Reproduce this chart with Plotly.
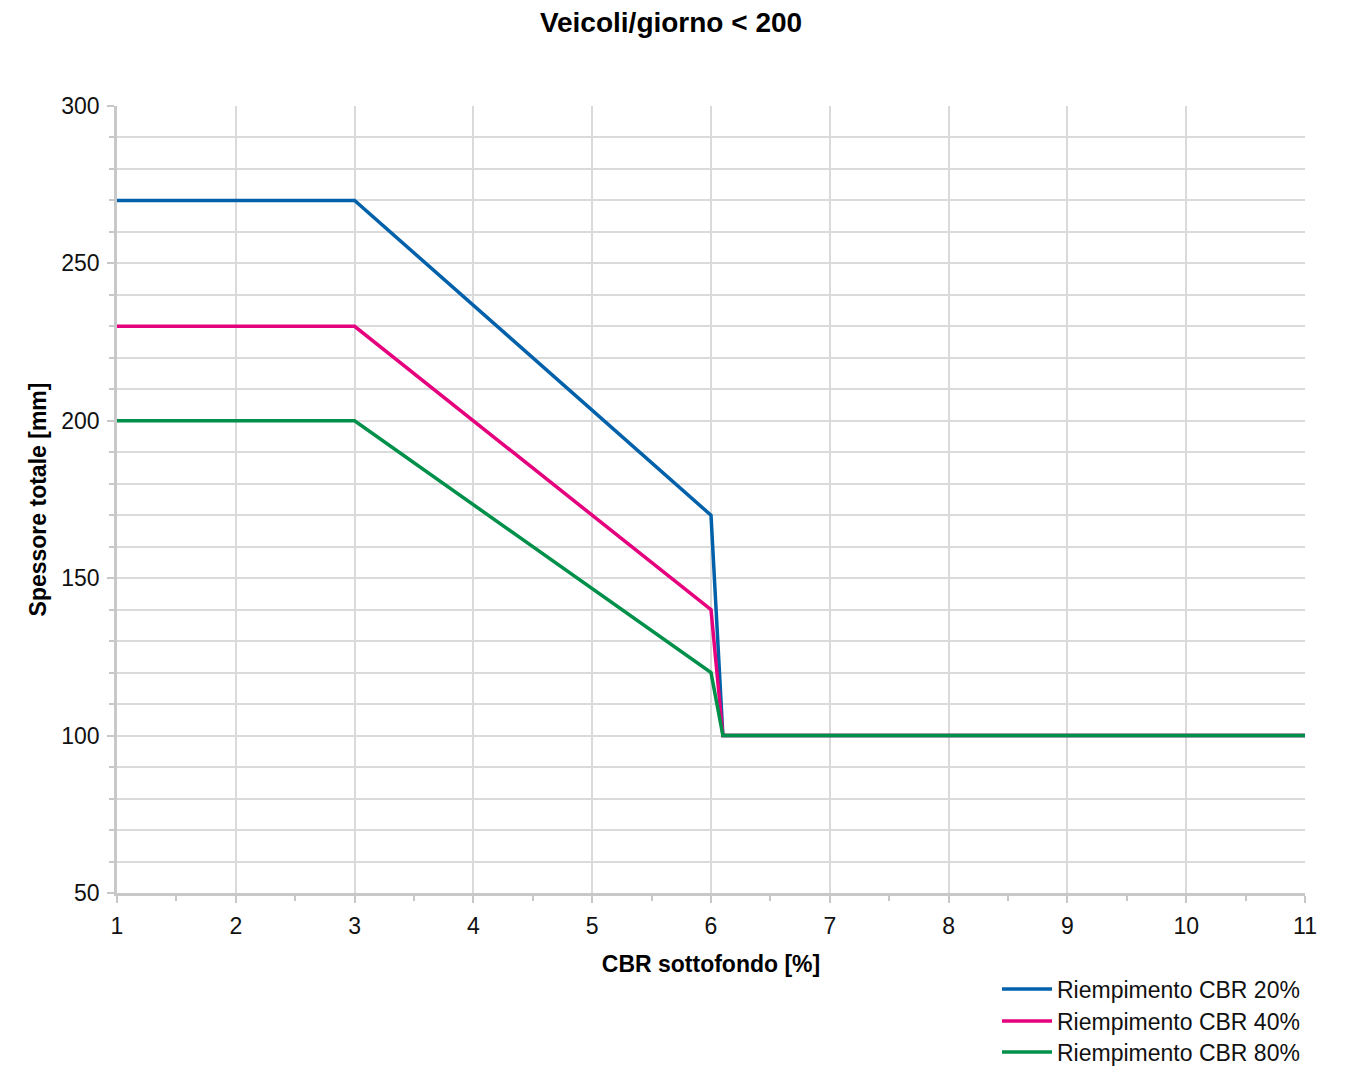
import plotly.graph_objects as go

cbr = [1, 3, 6, 6.1, 11]
riemp_20 = [270, 270, 170, 100, 100]
riemp_40 = [230, 230, 140, 100, 100]
riemp_80 = [200, 200, 120, 100, 100]
names = ["Riempimento CBR 20%", "Riempimento CBR 40%", "Riempimento CBR 80%"]
colors = ["#0061AA", "#E5007D", "#00904A"]

FONT = "Liberation Sans, Arial, sans-serif"
W, H = 1331, 1058
L, T, R, B = 109, 98, 34, 173
PH = H - T - B

fig = go.Figure()
legend_ids = ["legend", "legend2", "legend3"]
for ys, n, c, lg in zip([riemp_20, riemp_40, riemp_80], names, colors, legend_ids):
    fig.add_trace(go.Scatter(x=cbr, y=ys, mode="lines", name=n, legend=lg,
                             line=dict(color=c, width=3.5)))

def leg(ypix):
    return dict(x=1.0, xanchor="right", y=-(ypix - (H - B)) / PH, yanchor="middle",
                font=dict(size=23, color="#111", family=FONT), itemwidth=50,
                bgcolor="rgba(0,0,0,0)", borderwidth=0)

fig.update_layout(
    width=W, height=H,
    paper_bgcolor="white", plot_bgcolor="white",
    margin=dict(l=L, t=T, r=R, b=B, autoexpand=False),
    font=dict(family=FONT, size=23, color="#111"),
    title=dict(text="<b>Veicoli/giorno < 200</b>", x=(663 - L) / (W - L - R), xref="paper",
               xanchor="center", y=1 - 14 / H, yanchor="middle",
               font=dict(size=28, color="#000")),
    legend=leg(981), legend2=leg(1013), legend3=leg(1044),
    showlegend=True,
)

fig.update_xaxes(
    range=[1, 11], tick0=1, dtick=1,
    showgrid=True, gridcolor="#dadada", gridwidth=1.5,
    showline=True, linecolor="#c8c8c8", linewidth=2.5,
    ticks="outside", ticklen=7, tickcolor="#c8c8c8", tickwidth=2,
    minor=dict(dtick=0.5, tick0=1, ticks="outside", ticklen=5,
               tickcolor="#c8c8c8", tickwidth=2, showgrid=False),
    tickfont=dict(size=23, color="#111"), ticklabelstandoff=4,
    title=dict(text="<b>CBR sottofondo [%]</b>", font=dict(size=23, color="#000"), standoff=18),
    zeroline=False,
)
fig.update_yaxes(
    range=[50, 300], tick0=50, dtick=50,
    showgrid=True, gridcolor="#dadada", gridwidth=1.5,
    showline=True, linecolor="#c8c8c8", linewidth=2.5,
    ticks="outside", ticklen=7, tickcolor="#c8c8c8", tickwidth=2,
    minor=dict(dtick=10, tick0=50, ticks="outside", ticklen=5,
               tickcolor="#c8c8c8", tickwidth=2, showgrid=True,
               gridcolor="#dadada", gridwidth=1.5),
    tickfont=dict(size=23, color="#111"), ticklabelstandoff=3,
    title=dict(text="<b>Spessore totale [mm]</b>", font=dict(size=23, color="#000"), standoff=9),
    zeroline=False,
)

fig.write_html("out.html")
